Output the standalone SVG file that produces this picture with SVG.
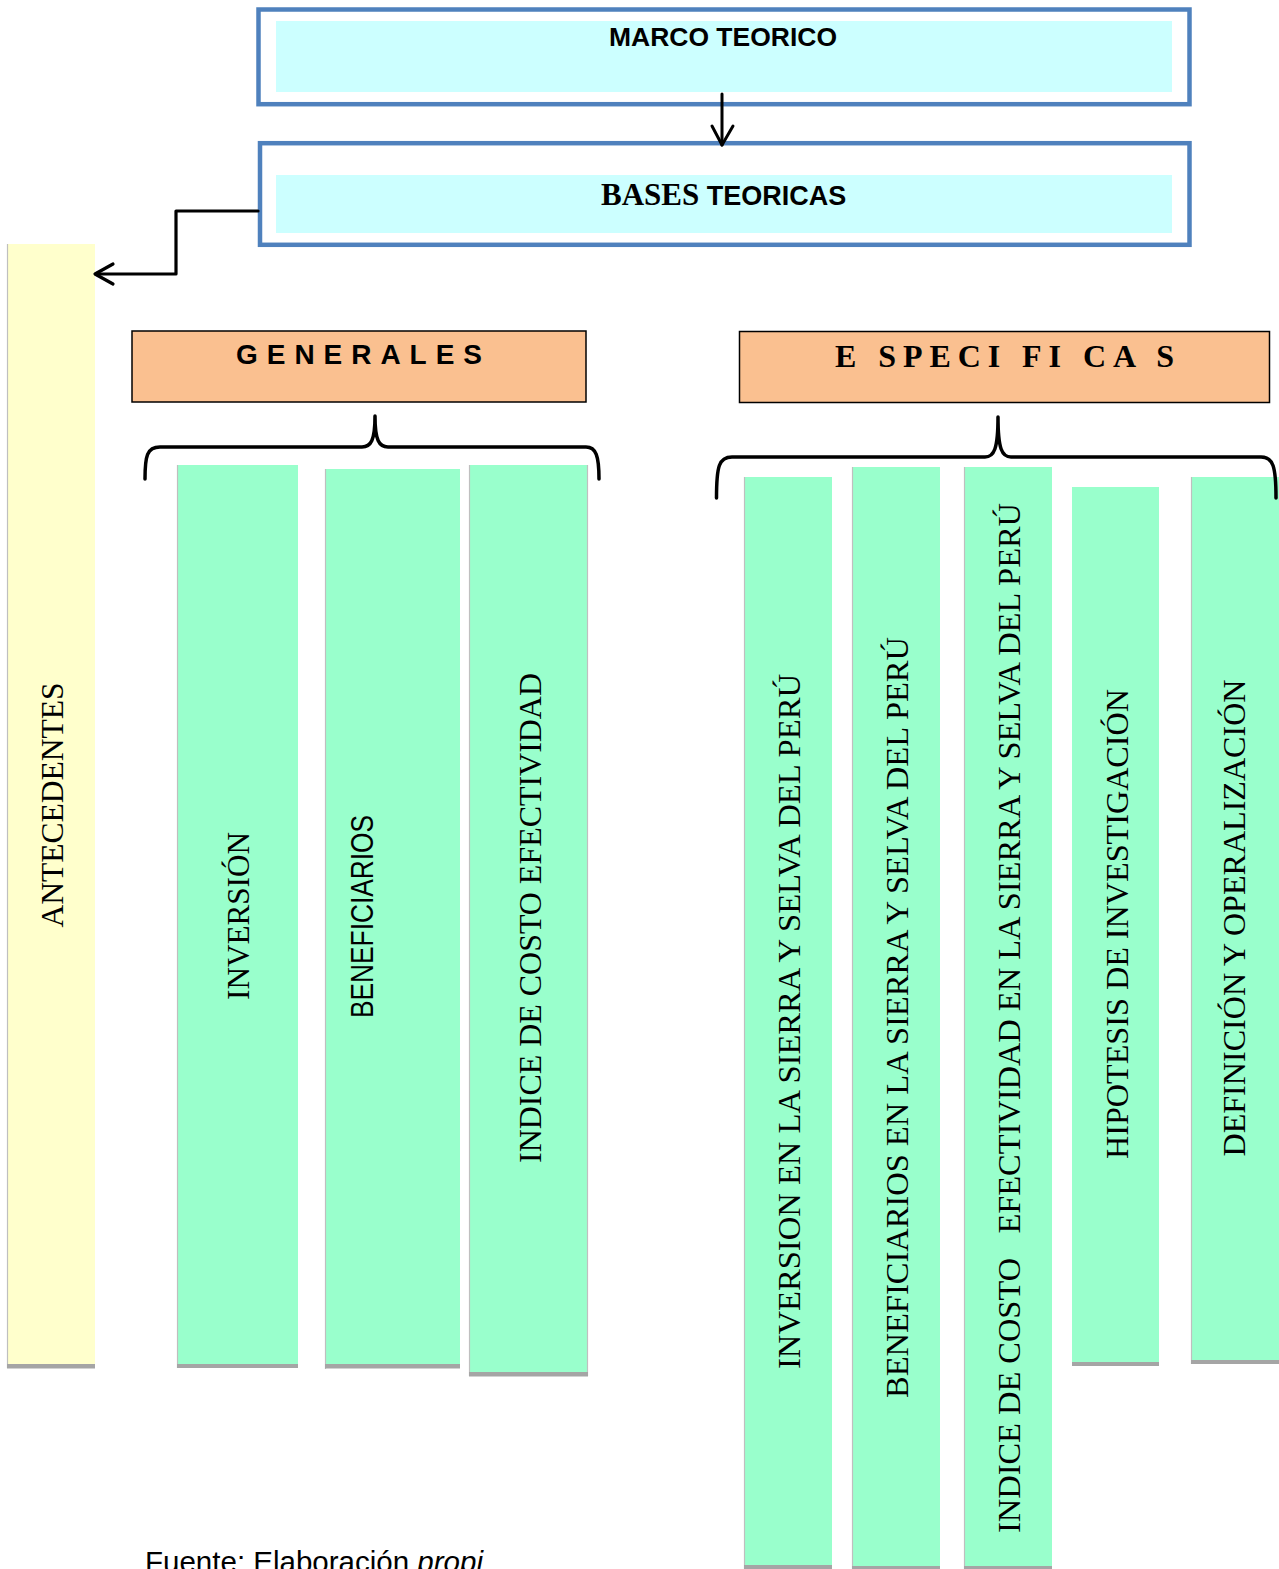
<svg xmlns="http://www.w3.org/2000/svg" width="1279" height="1569" viewBox="0 0 1279 1569">
<style>
.outer{fill:#fff;stroke:#4F81BD;stroke-width:4.5}
.inner{fill:#CCFFFF}
.hdr{fill:#FAC090;stroke:#000;stroke-width:1.5}
.mint{fill:#99FFCC}
.yel{fill:#FFFFCC}
.edge{stroke:#BFBFBF;stroke-width:1.2}
.shadow{fill:#A5A5A5}
.conn{fill:none;stroke:#000;stroke-linecap:round;stroke-linejoin:round}
.serif{font-family:"Liberation Serif","Times New Roman",serif;fill:#000}
.sans{font-family:"Liberation Sans",Arial,sans-serif;fill:#000}
.vt{font-size:32px;text-anchor:middle;white-space:pre}
</style>

<g id="marco-teorico">
  <rect class="outer" x="258.5" y="9.5" width="931" height="94.7"/>
  <rect class="inner" x="276" y="21" width="896" height="71"/>
  <text class="sans" x="723" y="46" font-size="25.5" font-weight="bold" text-anchor="middle" textLength="228" lengthAdjust="spacingAndGlyphs">MARCO TEORICO</text>
</g>

<g id="bases-teoricas">
  <rect class="outer" x="260" y="143.2" width="929.5" height="101.6"/>
  <rect class="inner" x="276" y="175" width="896" height="58"/>
  <text x="601" y="205"><tspan class="serif" font-size="31" font-weight="bold">BASES</tspan><tspan class="sans" font-size="27" font-weight="bold"> TEORICAS</tspan></text>
</g>

<g id="antecedentes">
  <rect class="yel" x="7" y="244" width="88" height="1120"/>
  <line class="edge" x1="7.5" y1="244" x2="7.5" y2="1368"/>
  <rect class="shadow" x="7" y="1364" width="88" height="4.5"/>
  <text class="serif vt" transform="translate(63,805) rotate(-90)" textLength="245" lengthAdjust="spacingAndGlyphs">ANTECEDENTES</text>
</g>

<g id="generales">
  <rect class="hdr" x="132" y="331" width="454" height="71"/>
  <text class="sans" x="236" y="364" font-size="28" font-weight="bold" textLength="246" lengthAdjust="spacing">GENERALES</text>
</g>

<g id="especificas">
  <rect class="hdr" x="739.5" y="331.5" width="530" height="71"/>
  <text class="serif" x="835" y="367" font-size="32" font-weight="bold" textLength="339" lengthAdjust="spacing">E SPECI FI CA S</text>
</g>

<g id="inversion">
  <rect class="mint" x="177" y="465" width="121" height="899"/>
  <line class="edge" x1="177.5" y1="465" x2="177.5" y2="1368"/>
  <rect class="shadow" x="177" y="1364" width="121" height="4"/>
  <text class="serif vt" transform="translate(249,916) rotate(-90)" textLength="168" lengthAdjust="spacingAndGlyphs">INVERSIÓN</text>
</g>

<g id="beneficiarios">
  <rect class="mint" x="325" y="469" width="135" height="895"/>
  <line class="edge" x1="325.5" y1="469" x2="325.5" y2="1369"/>
  <rect class="shadow" x="325" y="1364" width="135" height="4.5"/>
  <text class="sans vt" font-size="28" transform="translate(373,916.5) rotate(-90)" textLength="203" lengthAdjust="spacingAndGlyphs">BENEFICIARIOS</text>
</g>

<g id="indice-costo">
  <rect class="mint" x="469" y="465" width="119" height="907"/>
  <line class="edge" x1="469.5" y1="465" x2="469.5" y2="1376"/>
  <line class="edge" x1="587.5" y1="465" x2="587.5" y2="1376"/>
  <rect class="shadow" x="469" y="1372" width="119" height="4.5"/>
  <text class="serif vt" transform="translate(541,918) rotate(-90)" textLength="490" lengthAdjust="spacingAndGlyphs">INDICE DE COSTO EFECTIVIDAD</text>
</g>

<g id="inversion-sierra-selva">
  <rect class="mint" x="744" y="477" width="88" height="1088"/>
  <line class="edge" x1="744.5" y1="477" x2="744.5" y2="1569"/>
  <rect class="shadow" x="744" y="1565" width="88" height="4"/>
  <text class="serif vt" transform="translate(800,1021.5) rotate(-90)" textLength="695" lengthAdjust="spacingAndGlyphs">INVERSION EN LA SIERRA Y SELVA DEL PERÚ</text>
</g>

<g id="beneficiarios-sierra-selva">
  <rect class="mint" x="852" y="467" width="88" height="1099"/>
  <line class="edge" x1="852.5" y1="467" x2="852.5" y2="1569"/>
  <rect class="shadow" x="852" y="1566" width="88" height="3"/>
  <text class="serif vt" transform="translate(908,1017.5) rotate(-90)" textLength="761" lengthAdjust="spacingAndGlyphs">BENEFICIARIOS EN LA SIERRA Y SELVA DEL PERÚ</text>
</g>

<g id="indice-sierra-selva">
  <rect class="mint" x="964" y="467" width="88" height="1099"/>
  <line class="edge" x1="964.5" y1="467" x2="964.5" y2="1569"/>
  <rect class="shadow" x="964" y="1566" width="88" height="3"/>
  <text class="serif vt" transform="translate(1020,1018) rotate(-90)" textLength="1030" lengthAdjust="spacingAndGlyphs">INDICE DE COSTO   EFECTIVIDAD EN LA SIERRA Y SELVA DEL PERÚ</text>
</g>

<g id="hipotesis">
  <rect class="mint" x="1072" y="487" width="87" height="875"/>
  <rect class="shadow" x="1072" y="1362" width="87" height="4"/>
  <text class="serif vt" transform="translate(1128,924) rotate(-90)" textLength="470" lengthAdjust="spacingAndGlyphs">HIPOTESIS DE INVESTIGACIÓN</text>
</g>

<g id="definicion">
  <rect class="mint" x="1191" y="477" width="88" height="883"/>
  <line class="edge" x1="1191.5" y1="477" x2="1191.5" y2="1364"/>
  <rect class="shadow" x="1191" y="1360" width="88" height="4"/>
  <text class="serif vt" transform="translate(1245,918) rotate(-90)" textLength="477" lengthAdjust="spacingAndGlyphs">DEFINICIÓN Y OPERALIZACIÓN</text>
</g>

<g id="fuente">
  <text class="sans" x="145" y="1572" font-size="29" textLength="338" lengthAdjust="spacingAndGlyphs">Fuente: Elaboración <tspan font-style="italic">propi</tspan></text>
</g>

<g id="connectors">
  <path class="conn" stroke-width="3" d="M722,94 V145"/>
  <path class="conn" stroke-width="3" d="M712,126 L722,145 L733,126"/>
  <path class="conn" stroke-width="3.2" d="M258,211 H176 V274 H96"/>
  <path class="conn" stroke-width="3.2" d="M113,264 L95,274 L113,284"/>
  <path class="conn" stroke-width="3.5" d="M145,479 C145,456 147,447 160,447 L362,447 C371,447 375,440 375,416 C375,440 379,447 388,447 L586,447 C596,447 599,456 599,479"/>
  <path class="conn" stroke-width="3.5" d="M716.5,498 C716.5,466 719,457 732,457 L985,457 C994,457 998,449 998,417 C998,449 1002,457 1011,457 L1261,457 C1273,457 1276,466 1276,498"/>
</g>
</svg>
